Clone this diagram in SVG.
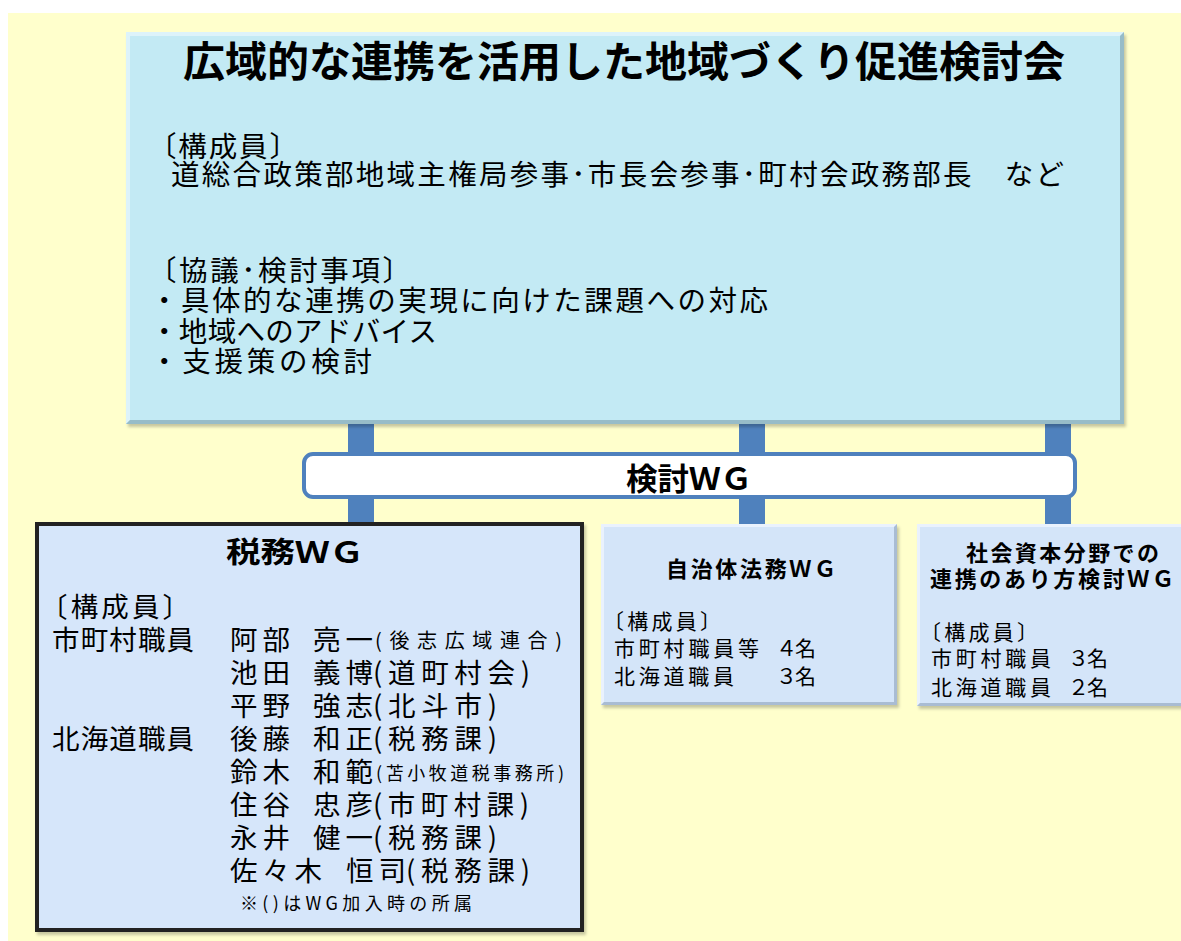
<svg xmlns="http://www.w3.org/2000/svg" width="1181" height="941" viewBox="0 0 1181 941">
<defs>
<style>
text { font-family: "Noto Sans CJK JP", "Noto Sans CJK SC", sans-serif; fill: #000; }
.b { font-weight: bold; }
.m { font-size: 28.5px; }
.t { font-size: 27.5px; }
.s { font-size: 20px; }
.w { font-size: 21px; }
.wt { font-size: 22px; font-weight: bold; }
.lt { fill: #DDF3FA; }
.dk { fill: #97BCC8; }
.lt2 { fill: #EAF2FD; }
.dk2 { fill: #A9BCD3; }
</style>
<filter id="sh" x="-5%" y="-5%" width="112%" height="115%">
<feDropShadow dx="2" dy="3" stdDeviation="1.5" flood-color="#000" flood-opacity="0.22"/>
</filter>
</defs>
<rect x="0" y="0" width="1181" height="941" fill="#FFFFFF"/>
<rect x="8" y="13" width="1173" height="928" fill="#FFFFCC"/>

<g id="connectors" fill="#4F81BD">
<rect x="348" y="420" width="26" height="104"/>
<rect x="739" y="420" width="26" height="104"/>
<rect x="1045" y="420" width="26" height="104"/>
</g>

<g id="main">
<rect x="126" y="32" width="998" height="392" fill="#C3EAF4" filter="url(#sh)"/>
<polygon class="lt" points="126,32 1124,32 1120,36 130,36 130,420 126,424"/>
<polygon class="dk" points="126,424 1124,424 1124,32 1120,36 1120,420 130,420"/>
<text class="b" x="183" y="77" font-size="42" textLength="882" lengthAdjust="spacingAndGlyphs">広域的な連携を活用した地域づくり促進検討会</text>
<text class="m" x="148" y="157" textLength="150">〔構成員〕</text>
<text class="m" x="171" y="185" textLength="893" lengthAdjust="spacing">道総合政策部地域主権局参事･市長会参事･町村会政務部長　など</text>
<text class="m" x="148" y="281" textLength="263">〔協議･検討事項〕</text>
<text class="m" x="150" y="311" textLength="618">・具体的な連携の実現に向けた課題への対応</text>
<text class="m" x="150" y="342" textLength="287">・地域へのアドバイス</text>
<text class="m" x="150" y="372" textLength="222">・支援策の検討</text>
</g>

<g id="kentou-wg">
<rect x="304" y="454" width="771" height="43" rx="9" fill="#FFFFFF" stroke="#4F81BD" stroke-width="4"/>
<text class="b" x="626" y="490" font-size="31" textLength="126" lengthAdjust="spacingAndGlyphs">検討ＷＧ</text>
</g>

<g id="zeimu-wg">
<rect x="37" y="524" width="545" height="406" fill="#D6E6FA" stroke="#222222" stroke-width="4" filter="url(#sh)"/>
<text class="b" x="226" y="563" font-size="29" textLength="138" lengthAdjust="spacingAndGlyphs">税務ＷＧ</text>
<text class="t" x="40" y="617" textLength="150">〔構成員〕</text>
<text class="t" x="52" y="650" textLength="142">市町村職員</text>
<text class="t" x="230" y="650" textLength="60">阿部</text>
<text class="t" x="313" y="650" textLength="60">亮一</text>
<text class="s" x="375" y="648" textLength="187">(後志広域連合)</text>
<text class="t" x="230" y="683" textLength="60">池田</text>
<text class="t" x="313" y="683" textLength="60">義博</text>
<text class="t" x="373" y="683" textLength="157">(道町村会)</text>
<text class="t" x="230" y="716" textLength="60">平野</text>
<text class="t" x="313" y="716" textLength="60">強志</text>
<text class="t" x="373" y="716" textLength="124">(北斗市)</text>
<text class="t" x="52" y="749" textLength="142">北海道職員</text>
<text class="t" x="230" y="749" textLength="60">後藤</text>
<text class="t" x="313" y="749" textLength="60">和正</text>
<text class="t" x="373" y="749" textLength="124">(税務課)</text>
<text class="t" x="230" y="782" textLength="60">鈴木</text>
<text class="t" x="313" y="782" textLength="60">和範</text>
<text x="376" y="780" font-size="18" textLength="188">(苫小牧道税事務所)</text>
<text class="t" x="230" y="815" textLength="60">住谷</text>
<text class="t" x="313" y="815" textLength="60">忠彦</text>
<text class="t" x="373" y="815" textLength="156">(市町村課)</text>
<text class="t" x="230" y="848" textLength="60">永井</text>
<text class="t" x="313" y="848" textLength="60">健一</text>
<text class="t" x="373" y="848" textLength="124">(税務課)</text>
<text class="t" x="230" y="881" textLength="92">佐々木</text>
<text class="t" x="346" y="881" textLength="60">恒司</text>
<text class="t" x="406" y="881" textLength="124">(税務課)</text>
<text x="240" y="910" font-size="18" textLength="232">※()はWG加入時の所属</text>
</g>

<g id="jichitai-wg">
<rect x="601" y="524" width="296" height="181" fill="#D4E5F9" filter="url(#sh)"/>
<polygon class="lt2" points="601,524 897,524 894,527 604,527 604,702 601,705"/>
<polygon class="dk2" points="601,705 897,705 897,524 894,527 894,702 604,702"/>
<text class="wt" x="666" y="577" textLength="170">自治体法務ＷＧ</text>
<text class="w" x="603" y="629" textLength="118">〔構成員〕</text>
<text class="w" x="614" y="656" textLength="145">市町村職員等</text>
<text class="w" x="776" y="656" textLength="40">４名</text>
<text class="w" x="614" y="684" textLength="120">北海道職員</text>
<text class="w" x="776" y="684" textLength="40">３名</text>
</g>

<g id="shakai-wg">
<rect x="917" y="524" width="275" height="182" fill="#D4E5F9" filter="url(#sh)"/>
<polygon class="lt2" points="917,524 1192,524 1192,527 920,527 920,703 917,706"/>
<polygon class="dk2" points="917,706 1192,706 1192,703 920,703"/>
<text class="wt" x="966" y="561" textLength="193">社会資本分野での</text>
<text class="wt" x="930" y="587" textLength="244">連携のあり方検討ＷＧ</text>
<text class="w" x="920" y="640" textLength="118">〔構成員〕</text>
<text class="w" x="931" y="666" textLength="120">市町村職員</text>
<text class="w" x="1068" y="666" textLength="40">３名</text>
<text class="w" x="931" y="695" textLength="120">北海道職員</text>
<text class="w" x="1068" y="695" textLength="40">２名</text>
</g>
</svg>
